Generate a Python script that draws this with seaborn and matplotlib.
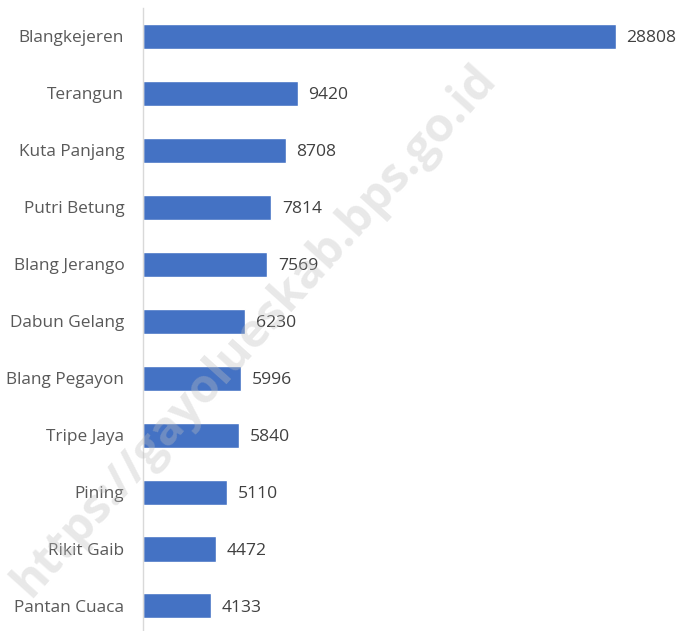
import matplotlib
matplotlib.use("Agg")
import matplotlib.pyplot as plt
import seaborn as sns
import pandas as pd

categories = ["Blangkejeren", "Terangun", "Kuta Panjang", "Putri Betung", "Blang Jerango",
              "Dabun Gelang", "Blang Pegayon", "Tripe Jaya", "Pining", "Rikit Gaib", "Pantan Cuaca"]
values = [28808, 9420, 8708, 7814, 7569, 6230, 5996, 5840, 5110, 4472, 4133]

df = pd.DataFrame({"kecamatan": categories, "nilai": values})

sns.set_style("white")
plt.rcParams['font.family'] = ['Open Sans', 'DejaVu Sans']

fig = plt.figure(figsize=(6.79, 6.31), dpi=100)
ax = fig.add_axes([143/679, 0.0, 1 - 143/679, 1 - 8/631])

sns.barplot(data=df, y="kecamatan", x="nilai", color="#4472C4", width=0.44,
            saturation=1, ax=ax, orient="h")

ax.set_xlim(0, 32640)
ax.set_ylim(10.44, -0.5)
ax.set_xlabel("")
ax.set_ylabel("")
ax.set_xticks([])
for s in ["top", "right", "bottom"]:
    ax.spines[s].set_visible(False)
ax.spines["left"].set_color("#d9d9d9")
ax.spines["left"].set_linewidth(1.0)
ax.tick_params(axis="y", length=0, pad=13.5, labelsize=12.4, labelcolor="#595959")

for i, v in enumerate(values):
    ax.text(v + 640, i, str(v), va="center_baseline", ha="left", fontsize=12.6,
            color="#404040")

fig.text(0.375, 0.475, "https://gayolueskab.bps.go.id", rotation=48, fontsize=34,
         fontweight="bold", color="#bfbfbf", alpha=0.35, ha="center", va="center",
         zorder=10)

fig.savefig("out.png", dpi=100)
